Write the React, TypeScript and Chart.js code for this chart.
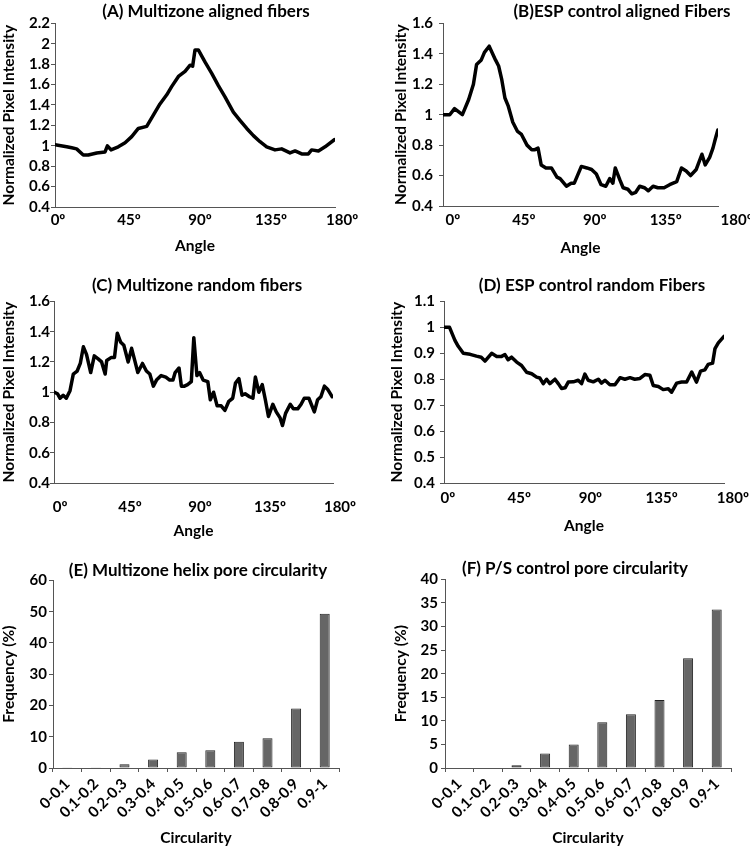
import React, { useEffect, useRef } from 'react';
import { Chart, registerables } from 'chart.js';

Chart.register(...registerables);

// ---------------- data ----------------
const angleTicks = [0, 45, 90, 135, 180];

const anglesA = [-1.9, 5.5, 8.7, 11.8, 16, 19.2, 24.5, 29.8, 31.3, 33.6, 38.2, 42.5, 46.7, 50.9, 56.2, 60.4, 64.6, 68.9, 72, 76.3, 80.5, 83.7, 85.3, 86.8, 88.9, 93.2, 97.4, 101.6, 105.8, 111.1, 115.3, 119.6, 123.8, 128, 132.2, 137.5, 141.7, 147, 150.2, 154.4, 158.6, 160.7, 165, 169.2, 175.1];
const intensityA = [1.01, 0.99, 0.98, 0.97, 0.91, 0.91, 0.93, 0.94, 1.0, 0.96, 0.99, 1.03, 1.09, 1.17, 1.19, 1.3, 1.41, 1.5, 1.58, 1.68, 1.73, 1.79, 1.78, 1.94, 1.94, 1.82, 1.71, 1.59, 1.48, 1.33, 1.25, 1.17, 1.1, 1.04, 0.99, 0.96, 0.97, 0.93, 0.95, 0.92, 0.92, 0.96, 0.95, 0.99, 1.06];

const anglesB = [-6.3, -2, 1, 6, 10, 13, 15, 18, 20, 23, 27, 29, 31, 33, 35, 38, 41, 43.5, 47, 50, 52, 54, 56, 59, 62.5, 66, 68, 72, 75, 77, 81.5, 85, 88, 91, 94, 97, 99.5, 101.5, 103, 106, 108, 111, 113.5, 116, 118.5, 121.5, 124, 127, 130, 134, 137.5, 142, 145, 148, 150.8, 154.4, 158, 160.1, 162.9, 165, 166.5, 168.1];
const intensityB = [1.0, 1.0, 1.04, 1.0, 1.1, 1.2, 1.33, 1.36, 1.41, 1.45, 1.36, 1.32, 1.23, 1.11, 1.06, 0.95, 0.89, 0.87, 0.8, 0.77, 0.77, 0.78, 0.67, 0.65, 0.65, 0.59, 0.58, 0.53, 0.55, 0.55, 0.66, 0.65, 0.64, 0.61, 0.54, 0.53, 0.58, 0.55, 0.65, 0.57, 0.52, 0.51, 0.48, 0.49, 0.53, 0.52, 0.5, 0.53, 0.52, 0.52, 0.54, 0.56, 0.65, 0.63, 0.6, 0.64, 0.74, 0.67, 0.72, 0.78, 0.84, 0.9];

const anglesC = [-3.6, -1.7, 0, 2, 4, 6.4, 8.5, 11, 13, 15, 17, 19.7, 22, 24.5, 26.7, 29, 30, 33, 35, 36.8, 39, 41, 43.8, 46, 48, 50, 53, 55.5, 57.7, 60, 62, 65, 68, 70.5, 72.6, 74, 76.5, 78, 80, 82, 84.4, 86, 88, 89.7, 92, 95, 96.6, 98.7, 101, 103.6, 106, 108.5, 111, 112.8, 115, 117, 119, 121.8, 124, 125.6, 127.8, 130, 132, 134, 136.8, 139, 141.5, 143, 145, 148, 150, 152.8, 155, 157, 160, 163.5, 165.6, 167.7, 170, 172, 175];
const intensityC = [1.0, 0.99, 0.96, 0.98, 0.96, 1.01, 1.12, 1.14, 1.19, 1.3, 1.25, 1.13, 1.24, 1.22, 1.2, 1.12, 1.21, 1.23, 1.23, 1.39, 1.33, 1.31, 1.2, 1.29, 1.21, 1.13, 1.19, 1.14, 1.12, 1.04, 1.08, 1.11, 1.1, 1.08, 1.08, 1.13, 1.16, 1.04, 1.04, 1.05, 1.07, 1.36, 1.11, 1.13, 1.08, 1.07, 0.95, 1.0, 0.91, 0.91, 0.88, 0.94, 0.96, 1.06, 1.09, 0.98, 0.99, 0.97, 0.96, 1.1, 1.0, 1.05, 0.95, 0.84, 0.92, 0.87, 0.83, 0.78, 0.86, 0.92, 0.89, 0.89, 0.92, 0.96, 0.96, 0.87, 0.95, 0.97, 1.04, 1.02, 0.97];

const anglesD = [-2.5, 1, 4.4, 6.5, 9.7, 14, 18, 21, 23.4, 27.6, 30.8, 33.9, 36, 38, 40.2, 43.4, 46.5, 49.7, 52.9, 56, 58, 60.2, 62.3, 64.4, 67.6, 69.7, 71.8, 74, 76, 79.2, 82.3, 84.4, 86.5, 88.6, 91.8, 95, 97, 99.2, 102.3, 105.5, 108.7, 111.8, 115, 118, 121.3, 124.4, 127.6, 129.7, 132.9, 136, 139.2, 141.3, 144.5, 147.6, 150.8, 154, 157, 159.6, 162.3, 164.4, 167.2, 168.7, 170.8, 174.4];
const intensityD = [1.0, 1.0, 0.95, 0.927, 0.9, 0.896, 0.889, 0.885, 0.87, 0.9, 0.888, 0.888, 0.895, 0.875, 0.885, 0.866, 0.853, 0.827, 0.821, 0.808, 0.805, 0.783, 0.8, 0.783, 0.8, 0.783, 0.764, 0.767, 0.789, 0.79, 0.796, 0.783, 0.82, 0.796, 0.79, 0.8, 0.785, 0.796, 0.779, 0.779, 0.806, 0.8, 0.806, 0.8, 0.803, 0.818, 0.815, 0.776, 0.772, 0.76, 0.763, 0.75, 0.785, 0.789, 0.789, 0.828, 0.789, 0.831, 0.836, 0.857, 0.862, 0.918, 0.94, 0.965];

const circularityBins = ['0-0.1', '0.1-0.2', '0.2-0.3', '0.3-0.4', '0.4-0.5', '0.5-0.6', '0.6-0.7', '0.7-0.8', '0.8-0.9', '0.9-1'];
const frequencyE = [0.2, 0.2, 1.2, 2.7, 5.0, 5.7, 8.4, 9.5, 19.0, 49.3];
const frequencyF = [0, 0, 0.6, 3.1, 5.0, 9.7, 11.4, 14.4, 23.3, 33.6];

// ---------------- styling ----------------
const FONT = 'Lato, "Open Sans", "DejaVu Sans", sans-serif';
const AXIS = '#555555';
const TEXT = '#000000';
const TICK_SIZE = 15;
const AXIS_TITLE_SIZE = 15.5;
const TITLE_SIZE = 17;
const fnt = (size: number) => ({ family: FONT, size, weight: 'bold' as const });

const titleShift = {
  id: 'titleShift',
  afterLayout(chart: any, _args: any, opts: any) {
    const tb = chart.titleBlock;
    if (!tb || opts == null || opts.center == null) return;
    const w = tb.right - tb.left;
    tb.left = opts.center - w / 2;
    tb.right = opts.center + w / 2;
  },
};

type Geo = {
  padRight: number;
  titleCenter: number;
  titlePad: [number, number];
  yWidth: number;
  yTitlePad: number;
  yTickPad: number;
  xHeight: number;
  xTitlePad: number;
  xTickPad: number;
};

function baseOptions(title: string, g: Geo, yTitle: string, xTitle: string, y: { min: number; max: number; step: number }) {
  return {
    responsive: false,
    maintainAspectRatio: false,
    animation: false,
    layout: { padding: { left: 0, top: 0, right: g.padRight, bottom: 0 } },
    plugins: {
      legend: { display: false },
      tooltip: { enabled: false },
      title: {
        display: true,
        text: title,
        color: TEXT,
        font: fnt(TITLE_SIZE),
        padding: { top: g.titlePad[0], bottom: g.titlePad[1] },
      },
      titleShift: { center: g.titleCenter },
    },
    scales: {
      y: {
        min: y.min,
        max: y.max,
        ticks: {
          stepSize: y.step,
          autoSkip: false,
          color: TEXT,
          font: fnt(TICK_SIZE),
          padding: g.yTickPad,
          callback: (v: number) => String(Math.round(v * 10) / 10),
        },
        grid: { display: true, drawOnChartArea: false, drawTicks: true, tickLength: 4, color: AXIS, lineWidth: 1 },
        border: { display: true, color: AXIS, width: 1 },
        title: { display: true, text: yTitle, color: TEXT, font: fnt(AXIS_TITLE_SIZE), padding: { top: g.yTitlePad, bottom: 0 } },
        afterFit: (s: any) => {
          s.width = g.yWidth;
        },
      },
      x: {
        title: { display: true, text: xTitle, color: TEXT, font: fnt(AXIS_TITLE_SIZE), padding: { top: 0, bottom: g.xTitlePad } },
        border: { display: true, color: AXIS, width: 1 },
        afterFit: (s: any) => {
          s.height = g.xHeight;
          s.paddingLeft = 0;
          s.paddingRight = 0;
        },
      },
    },
  };
}

function lineConfig(title: string, angles: number[], values: number[], xr: [number, number], y: { min: number; max: number; step: number }, g: Geo) {
  const opts: any = baseOptions(title, g, 'Normalized Pixel Intensity', 'Angle', y);
  opts.scales.x = {
    ...opts.scales.x,
    type: 'linear',
    min: xr[0],
    max: xr[1],
    afterBuildTicks: (s: any) => {
      s.ticks = angleTicks.map((v) => ({ value: v }));
    },
    ticks: {
      color: TEXT,
      font: fnt(TICK_SIZE),
      padding: g.xTickPad,
      maxRotation: 0,
      autoSkip: false,
      callback: (v: number) => `${v}º`,
    },
    grid: { display: false, drawTicks: false },
  };
  return {
    type: 'line',
    data: {
      datasets: [
        {
          data: angles.map((a, i) => ({ x: a, y: values[i] })),
          borderColor: '#000000',
          borderWidth: 3.5,
          borderJoinStyle: 'round',
          borderCapStyle: 'round',
          pointRadius: 0,
          tension: 0,
          fill: false,
        },
      ],
    },
    options: opts,
    plugins: [titleShift],
  };
}

function barConfig(title: string, values: number[], y: { min: number; max: number; step: number }, g: Geo) {
  const opts: any = baseOptions(title, g, 'Frequency (%)', 'Circularity', y);
  opts.scales.y.ticks.callback = (v: number) => String(v);
  opts.scales.x = {
    ...opts.scales.x,
    type: 'category',
    offset: true,
    ticks: {
      color: TEXT,
      font: fnt(TICK_SIZE),
      padding: g.xTickPad,
      minRotation: 45,
      maxRotation: 45,
      autoSkip: false,
    },
    grid: { display: true, offset: true, drawOnChartArea: false, drawTicks: true, tickLength: 4, color: AXIS },
  };
  return {
    type: 'bar',
    data: {
      labels: circularityBins,
      datasets: [
        {
          data: values,
          backgroundColor: '#666666',
          borderColor: '#222222',
          borderWidth: 1,
          borderSkipped: false,
          barPercentage: 0.35,
          categoryPercentage: 1,
        },
      ],
    },
    options: opts,
    plugins: [titleShift],
  };
}

type Box = { left: number; top: number; width: number; height: number };

function Panel({ box, make }: { box: Box; make: () => any }) {
  const ref = useRef<HTMLCanvasElement | null>(null);
  useEffect(() => {
    if (!ref.current) return;
    const chart = new Chart(ref.current, make());
    return () => chart.destroy();
  }, []);
  return (
    <canvas
      ref={ref}
      width={box.width}
      height={box.height}
      style={{ position: 'absolute', left: box.left, top: box.top, width: box.width, height: box.height }}
    />
  );
}

export default function App() {
  return (
    <div style={{ position: 'absolute', left: 0, top: 0, width: 750, height: 847, background: '#ffffff', overflow: 'hidden' }}>
      <Panel
        box={{ left: 0, top: 0, width: 375, height: 270 }}
        make={() =>
          lineConfig('(A) Multizone aligned fibers', anglesA, intensityA, [-1.9, 175.5], { min: 0.4, max: 2.2, step: 0.2 }, {
            padRight: 40, titleCenter: 206, titlePad: [1, 2], yWidth: 55, yTitlePad: 0, yTickPad: 1,
            xHeight: 63, xTitlePad: 15, xTickPad: 4,
          })
        }
      />
      <Panel
        box={{ left: 375, top: 0, width: 375, height: 270 }}
        make={() =>
          lineConfig('(B)ESP control aligned Fibers', anglesB, intensityB, [-6.3, 168.2], { min: 0.4, max: 1.6, step: 0.2 }, {
            padRight: 32, titleCenter: 247, titlePad: [1, 2], yWidth: 68, yTitlePad: 17, yTickPad: 6,
            xHeight: 64, xTitlePad: 13, xTickPad: 5,
          })
        }
      />
      <Panel
        box={{ left: 0, top: 270, width: 375, height: 280 }}
        make={() =>
          lineConfig('(C) Multizone random fibers', anglesC, intensityC, [-3.9, 175.5], { min: 0.4, max: 1.6, step: 0.2 }, {
            padRight: 42, titleCenter: 197, titlePad: [5, 6], yWidth: 54, yTitlePad: 0, yTickPad: 0,
            xHeight: 67, xTitlePad: 10, xTickPad: 15,
          })
        }
      />
      <Panel
        box={{ left: 375, top: 270, width: 375, height: 280 }}
        make={() =>
          lineConfig('(D) ESP control random Fibers', anglesD, intensityD, [-2.5, 174.4], { min: 0.4, max: 1.1, step: 0.1 }, {
            padRight: 26, titleCenter: 217, titlePad: [5, 6], yWidth: 69, yTitlePad: 13, yTickPad: 5,
            xHeight: 67, xTitlePad: 15, xTickPad: 6,
          })
        }
      />
      <Panel
        box={{ left: 0, top: 550, width: 375, height: 297 }}
        make={() =>
          barConfig('(E) Multizone helix pore circularity', frequencyE, { min: 0, max: 60, step: 10 }, {
            padRight: 36, titleCenter: 198, titlePad: [10, 0], yWidth: 53, yTitlePad: 0, yTickPad: 2,
            xHeight: 79, xTitlePad: 0, xTickPad: 3,
          })
        }
      />
      <Panel
        box={{ left: 375, top: 550, width: 375, height: 297 }}
        make={() =>
          barConfig('(F) P/S control pore circularity', frequencyF, { min: 0, max: 40, step: 5 }, {
            padRight: 19, titleCenter: 200, titlePad: [8, 1], yWidth: 70, yTitlePad: 17, yTickPad: 3,
            xHeight: 79, xTitlePad: 0, xTickPad: 3,
          })
        }
      />
    </div>
  );
}
